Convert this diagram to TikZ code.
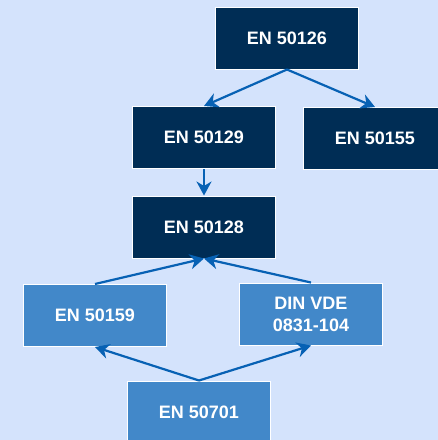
\documentclass[tikz,border=0pt]{standalone}
\usepackage{fontspec}
\setmainfont{Liberation Sans}
\usetikzlibrary{arrows.meta}
\definecolor{bgblue}{HTML}{D4E3FC}
\definecolor{navy}{HTML}{002D55}
\definecolor{midblue}{HTML}{4288C9}
\definecolor{linkblue}{HTML}{0761B4}
\tikzset{
  stdbox/.style={rectangle, draw=white, line width=1pt, minimum width=143pt,
    minimum height=62pt, inner sep=0pt, text=white, align=center,
    font=\bfseries\fontsize{18}{22}\selectfont},
  corebox/.style={stdbox, fill=navy},
  relbox/.style={stdbox, fill=midblue},
  link/.style={draw=linkblue, line width=2.2pt,
    -{Stealth[length=14pt,width=15pt,inset=4.5pt]}}
}
\begin{document}
\begin{tikzpicture}[x=1pt,y=-1pt]
  \useasboundingbox (0,0) rectangle (438,440);
  \clip (0,0) rectangle (438,440);
  \fill[bgblue] (0,0) rectangle (438,440);

  \node[corebox] (n126) at (287,38)  {EN 50126};
  \node[corebox] (n129) at (204,137.5) {EN 50129};
  \node[corebox] (n155) at (375,138.5) {EN 50155};
  \node[corebox] (n128) at (204,227) {EN 50128};
  \node[relbox]  (n159) at (95,315.5)  {EN 50159};
  \node[relbox]  (vde)  at (311,314)   {DIN VDE\\0831-104};
  \node[relbox]  (n701) at (199,412)   {EN 50701};

  \draw[link] (n126.south) -- (n129.north);
  \draw[link] (n126.south) -- (n155.north);
  \draw[link] (n129.south) -- (n128.north);
  \draw[link] (n159.north) -- (n128.south);
  \draw[link] (vde.north)  -- (n128.south);
  \draw[link] (n701.north) -- (n159.south);
  \draw[link] (n701.north) -- (vde.south);
\end{tikzpicture}
\end{document}
